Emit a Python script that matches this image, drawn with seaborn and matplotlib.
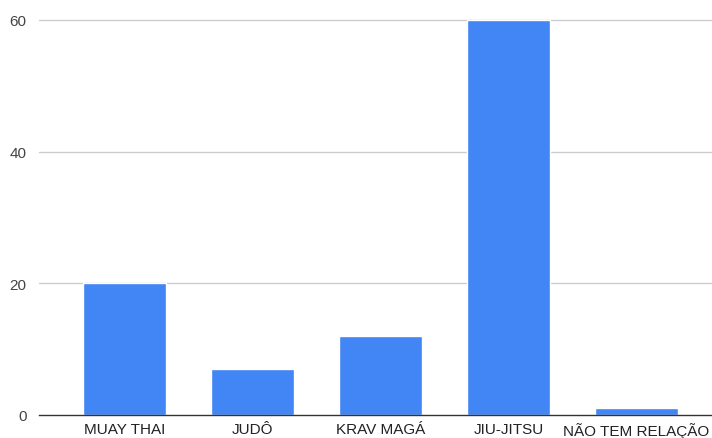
import matplotlib
matplotlib.use("Agg")
import matplotlib.pyplot as plt
import seaborn as sns
import pandas as pd

categories = ["MUAY THAI", "JUDÔ", "KRAV MAGÁ", "JIU-JITSU", "NÃO TEM RELAÇÃO"]
values = [20, 7, 12, 60, 1]
yticks = [0, 20, 40, 60]

sns.set_theme(style="white")
plt.rcParams['font.family'] = ['Liberation Sans', 'DejaVu Sans']

df = pd.DataFrame({"cat": categories, "val": values})

fig = plt.figure(figsize=(7.12, 4.39), dpi=100)
ax = fig.add_axes([39/712, 1-416/439, 1-39/712, (416-21)/439])
sns.barplot(data=df, x="cat", y="val", color="#4285F4", saturation=1, width=0.65, ax=ax, zorder=3)
ax.set_xlim(-0.67, 4.59)
ax.set_ylim(0, 60)
ax.set_yticks(yticks)
ax.set_yticklabels([str(t) for t in yticks], fontsize=11, color="#444444")
ax.tick_params(axis='x', labelsize=11, labelcolor="#222222", length=0, pad=5)
ax.tick_params(axis='y', length=0, pad=9)
for y in yticks[1:]:
    ax.axhline(y, color="#cccccc", lw=1, zorder=1, clip_on=False)
for s in ["top", "right", "left"]:
    ax.spines[s].set_visible(False)
ax.spines["bottom"].set_color("#333333")
ax.spines["bottom"].set_linewidth(1)
ax.spines["bottom"].set_zorder(4)
ax.set_xlabel("")
ax.set_ylabel("")
fig.savefig("out.png", dpi=100)
